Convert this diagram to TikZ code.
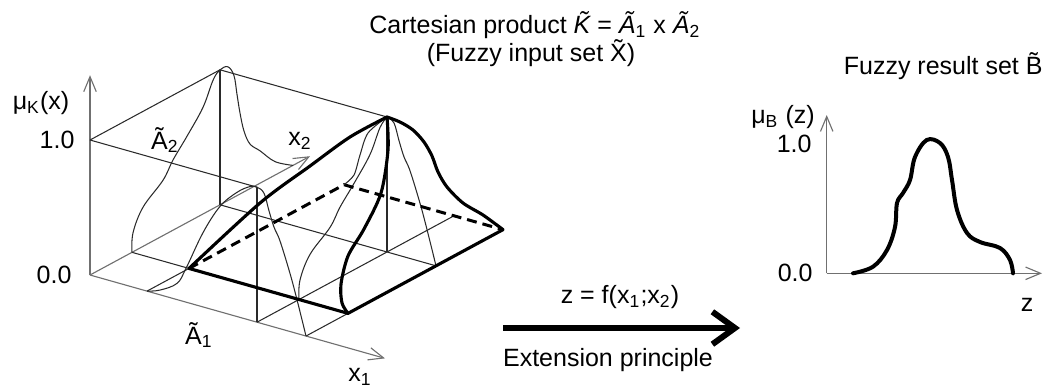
\documentclass[tikz,border=0pt]{standalone}
\usepackage{fontspec}
\setmainfont{Liberation Sans}
\usepackage{tikz}
\usetikzlibrary{arrows.meta,calc}
\definecolor{axisgray}{HTML}{707070}
\definecolor{thinline}{HTML}{2A2A2A}
\tikzset{
    axisline/.style={draw=axisgray, line width=0.45pt, -{Straight Barb[length=6pt,width=5pt]}},
    gridline/.style={draw=thinline, line width=0.42pt},
    surfline/.style={draw=black, line width=1.25pt, line join=round, line cap=round},
    hiddenline/.style={draw=black, line width=1.2pt, dash pattern=on 4pt off 2.4pt},
    resultcurve/.style={draw=black, line width=1.6pt, line cap=round},
    mainarrow/.style={draw=black, line width=2.4pt, -{Straight Barb[length=9pt,width=13pt]}},
    lbl/.style={font=\fontsize{10}{12}\selectfont, inner sep=0pt},
}

\begin{document}
\begin{tikzpicture}[x=0.4pt, y=-0.4pt]
    \useasboundingbox (0,0) rectangle (1043,388);

    % input set, drawn in (x1, x2, mu)
    \begin{scope}[shift={(90,275)}, x={(0.4pt,-0.113pt)}, y={(0.4pt,0.216pt)}, z={(0pt,54pt)}]
        \coordinate (O) at (0,0,0);
        \coordinate (mutip) at (0,0,1.48);
        \coordinate (xonetip) at (295,0,0);
        \coordinate (xtwotip) at (0,220,0);
        \coordinate (pk) at (167,130,1);
        \coordinate (cL) at (57,42,0);
        \coordinate (cF) at (216,42,0);
        \coordinate (cR) at (216,197,0);
        \coordinate (cB) at (57,197,0);

        \draw[axisline] (O) -- (mutip);
        \draw[axisline] (O) -- (xonetip);
        \draw[axisline] (O) -- (xtwotip);

        % helper lines
        \draw[gridline] (0,0,1) -- (0,130,1) -- (pk);
        \draw[gridline] (0,0,1) -- (167,0,1);
        \draw[gridline] (0,130,0) -- (0,130,1);
        \draw[gridline] (167,0,0) -- (167,0,1);
        \draw[gridline] (167,130,0) -- (pk);
        \draw[gridline] (0,42,0) -- (cL);
        \draw[gridline] (57,0,0) -- (cL);
        \draw[gridline] (216,0,0) -- (cF);
        \draw[gridline] (0,130,0) -- (216,130,0);
        \draw[gridline] (167,0,0) -- (167,197,0);

        % A1 and A2
        \draw[gridline] plot[smooth, tension=0.6] coordinates {(57,0,0) (70,0,0.035) (87,0,0.12) (96,0,0.25) (113,0,0.55) (130,0,0.78) (147,0,0.92) (160,0,0.99) (167,0,1) (174,0,0.97) (179,0,0.85) (184,0,0.74) (190,0,0.65) (200,0,0.43) (207,0,0.25) (216,0,0)};
        \draw[gridline] plot[smooth, tension=0.6] coordinates {(0,42,0) (0,43,0.14) (0,53,0.29) (0,73,0.41) (0,83,0.52) (0,97,0.64) (0,113,0.79) (0,123,0.95) (0,130,1) (0,138,0.99) (0,144,0.9) (0,147,0.75) (0,150,0.6) (0,154,0.45) (0,160,0.33) (0,170,0.24) (0,185,0.1) (0,203,0)};

        % slices through the peak
        \draw[gridline] plot[smooth, tension=0.6] coordinates {(167,42,0) (167,43,0.14) (167,53,0.29) (167,73,0.41) (167,83,0.52) (167,97,0.64) (167,113,0.79) (167,123,0.95) (pk)};
        \draw[gridline] plot[smooth, tension=0.6] coordinates {(pk) (174,130,0.97) (179,130,0.85) (184,130,0.74) (190,130,0.65) (200,130,0.43) (207,130,0.25) (216,130,0)};

        % support
        \draw[hiddenline] (cL) -- (cB) -- (cR);
        \draw[surfline] (cL) -- (cF) -- (cR);
    \end{scope}

    \draw[gridline] plot[smooth] coordinates {(pk) (368,133) (360,155) (354,175) (cB)};
    \draw[surfline] plot[smooth] coordinates {(cL) (260,203) (310,166) (350,137) (pk)};
    \draw[surfline] plot[smooth] coordinates {(pk) (388,150) (381,193) (364,229) (348,256) (341,284) (342,303) (cF)};
    \draw[surfline] plot[smooth] coordinates {(pk) (400,122) (413,130) (424,142) (432,156) (438,172) (447,187) (463,203) (483,215) (cR)};

    \node[lbl] (mulbl) at (41,103) {μ\textsubscript{K}(x)};
    \node[lbl, anchor=east] (onelbl) at (75,140) {1.0};
    \node[lbl, anchor=east] (zerolbl) at (72,275) {0.0};
    \node[lbl] (atwolbl) at (165,140) {Ã\textsubscript{2}};
    \node[lbl] (xtwolbl) at (300,141) {x\textsubscript{2}};
    \node[lbl] (aonelbl) at (199,335) {Ã\textsubscript{1}};
    \node[lbl] (xonelbl) at (360,377) {x\textsubscript{1}};
    \node[lbl] (prodlbl) at (535,25) {Cartesian product {\itshape\~K} = {\itshape Ã}\textsubscript{\upshape 1} x {\itshape Ã}\textsubscript{\upshape 2}};
    \node[lbl] (inputlbl) at (531,53) {(Fuzzy input set \~X)};

    % extension principle
    \coordinate (arrS) at (503,328);
    \coordinate (arrE) at (740,328);
    \draw[mainarrow] (arrS) -- (arrE);
    \node[lbl] (funclbl) at (620,297) {z = f(x\textsubscript{1};x\textsubscript{2})};
    \node[lbl] (extlbl) at (608,360) {Extension principle};

    % result set
    \coordinate (bO) at (826.7,273.3);
    \coordinate (btop) at (826.7,115);
    \coordinate (bend) at (1042,273.3);
    \draw[axisline] (bO) -- (btop);
    \draw[axisline] (bO) -- (bend);
    \draw[resultcurve] plot[smooth, tension=0.6] coordinates {(853,273.3) (873,266.7) (887,250) (895,227) (897,203) (903,193) (910,180) (915,157) (926.7,140) (940,143) (948,157) (952,180) (957,210) (967,233) (980,242) (1000,248) (1010,260) (1013,273.3)};
    \node[lbl] (mublbl) at (783,117) {μ\textsubscript{B} (z)};
    \node[lbl, anchor=east] (bonelbl) at (812,144) {1.0};
    \node[lbl, anchor=east] (bzerolbl) at (813,273) {0.0};
    \node[lbl] (zlbl) at (1027,305) {z};
    \node[lbl, anchor=east] (resultlbl) at (1043,66) {Fuzzy result set \~B};
\end{tikzpicture}
\end{document}
